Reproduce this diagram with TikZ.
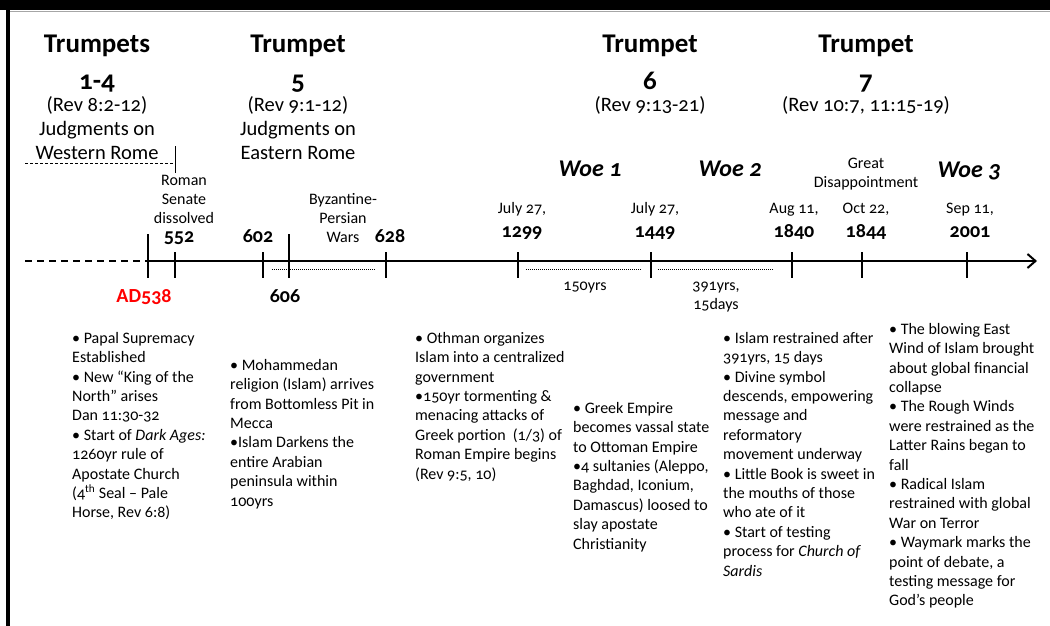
\documentclass[tikz,border=0pt]{standalone}
\usepackage{fontspec}
\setmainfont{Carlito}[Numbers=OldStyle]
\usetikzlibrary{arrows.meta}

\tikzset{
  trumpet/.style={anchor=base, inner sep=0pt, font=\bfseries\fontsize{27}{32}\selectfont},
  rev/.style={anchor=base, inner sep=0pt, font=\fontsize{20.5}{24}\selectfont},
  woe/.style={anchor=base, inner sep=0pt, font=\bfseries\itshape\fontsize{24}{28}\selectfont},
  note/.style={anchor=base, inner sep=0pt, align=center, font=\fontsize{16}{19}\selectfont},
  yr/.style={anchor=base, inner sep=0pt, font=\bfseries\fontsize{20}{24}\selectfont},
  blurb/.style={anchor=north west, align=left, inner sep=0pt, font=\fontsize{16}{19.4}\selectfont},
  tick/.style={line width=1.4pt},
  axis/.style={line width=2pt},
  span/.style={line width=0.9pt, dash pattern=on 1pt off 1pt},
}

\begin{document}
\begin{tikzpicture}[x=1pt,y=-1pt]
	\useasboundingbox (0,0) rectangle (1050,626);
	% frame
	\fill (0,0) rectangle (1050,10);
	\draw[black!35, line width=1.5pt] (10,11.5) -- (1050,11.5);
	\fill (6,0) rectangle (10,626);

	% trumpet headings
	\node[trumpet] (tr1) at (97,53) {Trumpets};
	\node[trumpet] (tr1n) at (97,89) {1-4};
	\node[rev] (tr1r) at (97,111) {(Rev 8:2-12)};
	\node[rev] (tr1j) at (97,135) {Judgments on};
	\node[rev] (tr1w) at (97,159) {Western Rome};
	\draw[line width=1pt, dash pattern=on 3pt off 2pt] (25,163) -- (175,163);
	\draw[line width=1pt] (175,146) -- (175,173);

	\node[trumpet] (tr5) at (298,53) {Trumpet};
	\node[trumpet] (tr5n) at (298,89) {5};
	\node[rev] (tr5r) at (298,111) {(Rev 9:1-12)};
	\node[rev] (tr5j) at (298,135) {Judgments on};
	\node[rev] (tr5e) at (298,159) {Eastern Rome};

	\node[trumpet] (tr6) at (650,53) {Trumpet};
	\node[trumpet] (tr6n) at (650,89) {6};
	\node[rev] (tr6r) at (650,111) {(Rev 9:13-21)};

	\node[trumpet] (tr7) at (866,53) {Trumpet};
	\node[trumpet] (tr7n) at (866,89) {7};
	\node[rev] (tr7r) at (866,111) {(Rev 10:7, 11:15-19)};

	\node[woe] (woe1) at (590,176) {Woe 1};
	\node[woe] (woe2) at (730,176) {Woe 2};
	\node[woe] (woe3) at (969,177) {Woe 3};

	% timeline
	\coordinate (start) at (25,261);
	\coordinate (end) at (1037,261);
	\coordinate (y538) at (148,261);
	\coordinate (y552) at (175,261);
	\coordinate (y602) at (263,261);
	\coordinate (y606) at (289,261);
	\coordinate (y628) at (386,261);
	\coordinate (y1299) at (518,261);
	\coordinate (y1449) at (651,261);
	\coordinate (y1840) at (792,261);
	\coordinate (y1844) at (862,261);
	\coordinate (y2001) at (967,261);
	\draw[axis, dash pattern=on 7pt off 5pt] (start) -- (y538);
	\draw[axis, -{Straight Barb[length=8pt,width=14pt]}] (y538) -- (end);
	\draw[tick] (y538) ++(0,-27) -- ++(0,44);
	\draw[tick] (y552) ++(0,-9) -- ++(0,26);
	\draw[tick] (y602) ++(0,-9) -- ++(0,26);
	\draw[tick] (y606) ++(0,-27) -- ++(0,44);
	\draw[tick] (y628) ++(0,-9) -- ++(0,26);
	\draw[tick] (y1299) ++(0,-9) -- ++(0,26);
	\draw[tick] (y1449) ++(0,-9) -- ++(0,26);
	\draw[tick] (y1840) ++(0,-9) -- ++(0,26);
	\draw[tick] (y1844) ++(0,-9) -- ++(0,26);
	\draw[tick] (y2001) ++(0,-9) -- ++(0,26);
	\draw[span] (272,269) -- (376,269);
	\draw[span] (526,269) -- (642,269);
	\draw[span] (658,269) -- (774,269);

	% dates (multi-line labels sit on their last line)
	\node[note] (senate) at (184,223) {Roman\\Senate\\dissolved};
	\node[yr] (d552) at (179,242) {552};
	\node[yr] (d602) at (258,242) {602};
	\node[note] (wars) at (343,242) {Byzantine-\\Persian\\Wars};
	\node[yr] (d628) at (390,242) {628};
	\node[yr, text=red] (d538) at (144,302) {AD538};
	\node[yr] (d606) at (285,302) {606};
	\node[note] (m1299) at (522,213) {July 27,};
	\node[yr] (d1299) at (522,237) {1299};
	\node[note] (m1449) at (655,213) {July 27,};
	\node[yr] (d1449) at (655,237) {1449};
	\node[note] (m1840) at (794,213) {Aug 11,};
	\node[yr] (d1840) at (794,237) {1840};
	\node[note] (great) at (866,187) {Great\\Disappointment};
	\node[note] (m1844) at (866,213) {Oct 22,};
	\node[yr] (d1844) at (866,237) {1844};
	\node[note] (m2001) at (970,213) {Sep 11,};
	\node[yr] (d2001) at (970,237) {2001};
	\node[note] (p150) at (585,290) {150yrs};
	\node[note] (p391) at (716,309) {391yrs,\\15days};

	% events
	\node[blurb] (ev538) at (72,332) {• Papal Supremacy\\Established\\• New “King of the\\North” arises\\Dan 11:30-32\\• Start of \textit{Dark Ages:}\\1260yr rule of\\Apostate Church\\(4\textsuperscript{th} Seal – Pale\\Horse, Rev 6:8)};
	\node[blurb] (ev606) at (230,359) {• Mohammedan\\religion (Islam) arrives\\from Bottomless Pit in\\Mecca\\•Islam Darkens the\\entire Arabian\\peninsula within\\100yrs};
	\node[blurb] (ev1299) at (415,332) {• Othman organizes\\Islam into a centralized\\government\\•150yr tormenting \&\\menacing attacks of\\Greek portion~ (1/3) of\\Roman Empire begins\\(Rev 9:5, 10)};
	\node[blurb] (ev1449) at (573,402) {• Greek Empire\\becomes vassal state\\to Ottoman Empire\\•4 sultanies (Aleppo,\\Baghdad, Iconium,\\Damascus) loosed to\\slay apostate\\Christianity};
	\node[blurb] (ev1840) at (723,332) {• Islam restrained after\\391yrs, 15 days\\• Divine symbol\\descends, empowering\\message and\\reformatory\\movement underway\\• Little Book is sweet in\\the mouths of those\\who ate of it\\• Start of testing\\process for \textit{Church of}\\\textit{Sardis}};
	\node[blurb] (ev2001) at (889,323) {• The blowing East\\Wind of Islam brought\\about global financial\\collapse\\• The Rough Winds\\were restrained as the\\Latter Rains began to\\fall\\• Radical Islam\\restrained with global\\War on Terror\\• Waymark marks the\\point of debate, a\\testing message for\\God’s people};
\end{tikzpicture}
\end{document}
